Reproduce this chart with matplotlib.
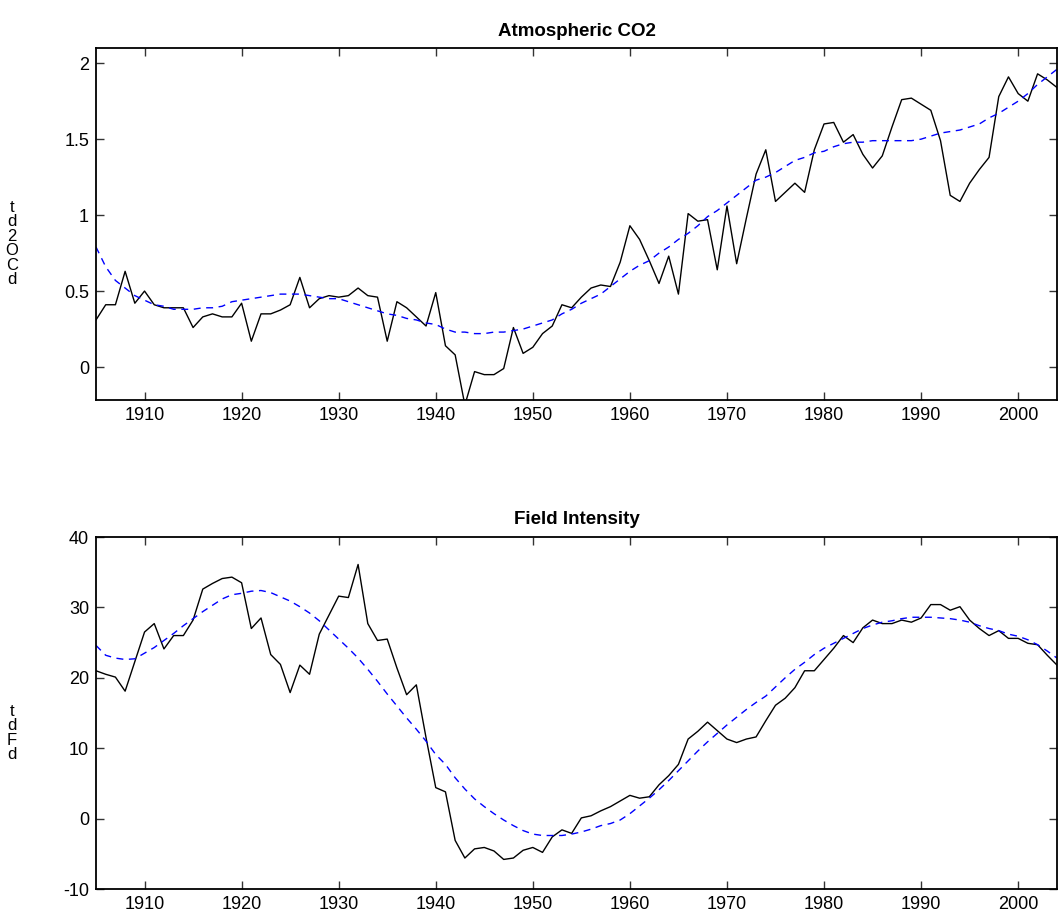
import matplotlib
matplotlib.use("Agg")
import matplotlib.pyplot as plt

# yearly values, 1905..2004
years = list(range(1905, 2005))

co2_rate = [
    0.31, 0.41, 0.41, 0.63, 0.42, 0.50, 0.41, 0.39, 0.39, 0.39,
    0.26, 0.33, 0.35, 0.33, 0.33, 0.42, 0.17, 0.35, 0.35, 0.375,
    0.41, 0.59, 0.39, 0.45, 0.47, 0.46, 0.47, 0.52, 0.47, 0.46,
    0.17, 0.43, 0.39, 0.33, 0.27, 0.49, 0.14, 0.08, -0.25, -0.03,
    -0.05, -0.05, -0.01, 0.26, 0.09, 0.13, 0.22, 0.27, 0.41, 0.39,
    0.46, 0.52, 0.54, 0.53, 0.69, 0.93, 0.84, 0.70, 0.55, 0.73,
    0.48, 1.01, 0.96, 0.97, 0.64, 1.06, 0.68, 0.98, 1.27, 1.43,
    1.09, 1.15, 1.21, 1.15, 1.43, 1.60, 1.61, 1.48, 1.53, 1.40,
    1.31, 1.39, 1.58, 1.76, 1.77, 1.73, 1.69, 1.49, 1.13, 1.09,
    1.21, 1.30, 1.38, 1.78, 1.91, 1.80, 1.75, 1.93, 1.89, 1.84,
]

co2_fit = [
    0.79, 0.66, 0.57, 0.52, 0.47, 0.44, 0.41, 0.40, 0.38, 0.38,
    0.38, 0.39, 0.39, 0.40, 0.43, 0.44, 0.45, 0.46, 0.47, 0.48,
    0.48, 0.48, 0.47, 0.46, 0.45, 0.45, 0.43, 0.41, 0.39, 0.37,
    0.35, 0.34, 0.32, 0.31, 0.29, 0.28, 0.25, 0.23, 0.23, 0.22,
    0.22, 0.23, 0.23, 0.24, 0.25, 0.27, 0.29, 0.31, 0.35, 0.38,
    0.42, 0.45, 0.48, 0.53, 0.58, 0.63, 0.67, 0.70, 0.75, 0.79,
    0.84, 0.88, 0.93, 0.99, 1.03, 1.08, 1.13, 1.18, 1.23, 1.25,
    1.28, 1.32, 1.36, 1.38, 1.41, 1.42, 1.45, 1.47, 1.48, 1.48,
    1.49, 1.49, 1.49, 1.49, 1.49, 1.50, 1.52, 1.54, 1.55, 1.56,
    1.58, 1.60, 1.64, 1.67, 1.71, 1.75, 1.80, 1.86, 1.91, 1.96,
]

field_rate = [
    21.0, 20.5, 20.1, 18.1, 22.3, 26.5, 27.7, 24.1, 26.0, 26.0,
    28.2, 32.6, 33.4, 34.1, 34.3, 33.5, 27.0, 28.5, 23.3, 21.9,
    17.9, 21.8, 20.5, 26.2, 28.9, 31.6, 31.4, 36.1, 27.7, 25.3,
    25.5, 21.4, 17.6, 19.0, 11.5, 4.4, 3.8, -3.1, -5.6, -4.3,
    -4.1, -4.6, -5.8, -5.6, -4.5, -4.1, -4.8, -2.6, -1.6, -2.1,
    0.1, 0.4, 1.1, 1.7, 2.5, 3.3, 2.9, 3.1, 4.8, 6.1,
    7.7, 11.3, 12.4, 13.7, 12.5, 11.3, 10.8, 11.3, 11.6, 13.9,
    16.1, 17.1, 18.6, 21.0, 21.0, 22.6, 24.2, 26.0, 25.0, 27.1,
    28.2, 27.7, 27.7, 28.2, 27.9, 28.5, 30.4, 30.4, 29.6, 30.1,
    28.2, 27.0, 26.0, 26.7, 25.6, 25.6, 24.9, 24.7, 23.2, 21.8,
]

field_fit = [
    24.6, 23.2, 22.8, 22.6, 22.7, 23.5, 24.3, 25.3, 26.3, 27.4,
    28.4, 29.4, 30.3, 31.2, 31.8, 32.0, 32.3, 32.4, 32.1, 31.5,
    30.9, 30.1, 29.2, 28.1, 26.8, 25.5, 24.2, 22.8, 21.2, 19.5,
    17.7, 16.0, 14.3, 12.7, 11.0, 9.1, 7.7, 5.8, 4.2, 2.8,
    1.7, 0.7, -0.2, -1.0, -1.7, -2.2, -2.4, -2.4, -2.4, -2.2,
    -1.9, -1.5, -1.0, -0.7, -0.2, 0.7, 1.8, 2.9, 4.1, 5.4,
    6.8, 8.2, 9.6, 10.9, 12.1, 13.3, 14.4, 15.5, 16.5, 17.4,
    18.7, 20.0, 21.2, 22.2, 23.3, 24.2, 24.9, 25.6, 26.3, 27.0,
    27.5, 27.9, 28.1, 28.4, 28.6, 28.6, 28.6, 28.5, 28.4, 28.2,
    27.9, 27.4, 27.0, 26.7, 26.2, 25.9, 25.4, 24.7, 23.8, 22.8,
]

xticks = [1910, 1920, 1930, 1940, 1950, 1960, 1970, 1980, 1990, 2000]
co2_yticks = [0, 0.5, 1, 1.5, 2]
co2_ylabels = ["0", "0.5", "1", "1.5", "2"]
field_yticks = [-10, 0, 10, 20, 30, 40]

# the y labels come out as upright glyphs stacked bottom to top
co2_label = "dCO2dt"
field_label = "dFdt"

plt.rcParams["font.family"] = ["Liberation Sans", "DejaVu Sans"]
plt.rcParams["axes.unicode_minus"] = False

W, H = 1058, 917
fig = plt.figure(figsize=(W / 100, H / 100), dpi=100)


def px_axes(left, top, right, bottom):
    return fig.add_axes([left / W, 1 - bottom / H, (right - left) / W, (bottom - top) / H])


def style(ax, title):
    ax.set_xlim(1905, 2004)
    ax.set_xticks(xticks)
    ax.tick_params(direction="in", length=6, width=1, top=True, right=True,
                   labelsize=13, pad=5, color="#333333")
    for s in ax.spines.values():
        s.set_linewidth(1.3)
    ax.set_title(title, fontsize=13.5, fontweight="bold", pad=9)


def stacked_label(text, y_bottom):
    fig.text(12 / W, 1 - y_bottom / H, "\n".join(reversed(text)),
             fontsize=12, ha="center", va="bottom", linespacing=0.95,
             multialignment="center")


ax1 = px_axes(96, 48, 1057, 400)
ax1.plot(years, co2_rate, color="black", lw=1)
ax1.plot(years, co2_fit, color="blue", lw=1, ls=(0, (5, 4)))
ax1.set_ylim(-0.217, 2.1)
ax1.set_yticks(co2_yticks)
ax1.set_yticklabels(co2_ylabels)
style(ax1, "Atmospheric CO2")

ax2 = px_axes(96, 537, 1057, 889)
ax2.plot(years, field_rate, color="black", lw=1)
ax2.plot(years, field_fit, color="blue", lw=1, ls=(0, (5, 4)))
ax2.set_ylim(-10, 40)
ax2.set_yticks(field_yticks)
style(ax2, "Field Intensity")

stacked_label(co2_label, 287)
stacked_label(field_label, 762)

fig.savefig("out.png", dpi=100)
